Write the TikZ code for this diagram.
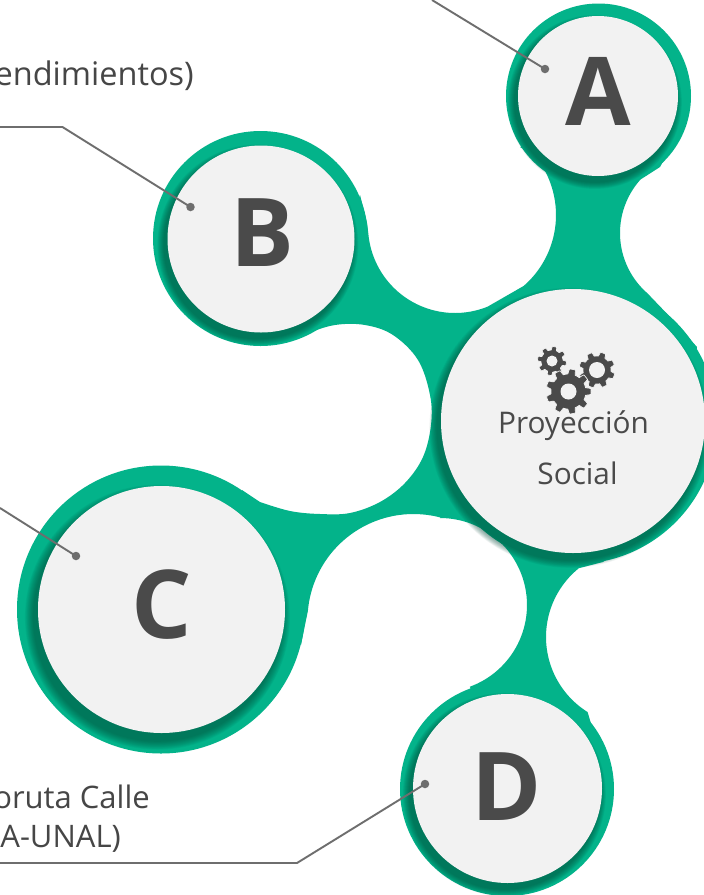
\documentclass[tikz,border=0pt]{standalone}
\usepackage{fontspec}
\setmainfont{Open Sans}
\definecolor{blobc}{HTML}{03B38A}
\definecolor{lightc}{HTML}{F2F2F2}
\definecolor{inkc}{HTML}{4A4A4A}
\definecolor{linec}{HTML}{6E6E6E}
\definecolor{shadowc}{HTML}{004A38}
\tikzset{
  disc/.style={circle,fill=lightc,draw=none,inner sep=0pt},
  letter/.style={anchor=base,inner sep=0pt,text=inkc,font=\fontsize{95}{95}\selectfont\bfseries},
  caption/.style={anchor=base,inner sep=0pt,text=inkc,font=\fontsize{29.8}{29.8}\selectfont},
  sidetext/.style={anchor=base east,inner sep=0pt,text=inkc!95!black,font=\fontsize{31}{31}\selectfont},
  leader/.style={draw=linec,line width=1.9pt,line join=miter},
  pin/.style={circle,fill=linec,draw=none,inner sep=0pt,minimum size=8.5pt}
}
\newcommand{\discshadow}[4]{%
  \foreach \k in {1,...,14}{%
    \fill[shadowc,opacity=.05] ({#1-0.45*#4},{#2+0.85*#4}) circle[radius={(#3+#4*\k/14)*1pt}];
  }}
\newcommand{\gearshape}[7]{%
  \fill[inkc,draw=lightc,line width=.7pt] plot[smooth cycle,tension=.2,samples=145,domain=0:357.5,variable=\t]
    ({#1+(#4+(#3-#4)*max(0,min(1,0.5+1.5*cos(#6*(\t-#7)))))*cos(\t)},
     {#2+(#4+(#3-#4)*max(0,min(1,0.5+1.5*cos(#6*(\t-#7)))))*sin(\t)});
  \fill[lightc] (#1,#2) circle[radius=#5 pt];}
\begin{document}
\begin{tikzpicture}[x=1pt,y=-1pt]
\clip (0,0) rectangle (704,895);
\fill[white] (0,0) rectangle (704,895);
% backbone outline: arcs of the white hollows joined by short straights
\fill[blobc] (675,140) -- (660,167)
 -- plot[domain=222:131,samples=40,variable=\t] ({700+80*cos(\t)},{233+80*sin(\t)})
 -- (673,320) -- (697,347) -- (690,420) -- (660,520) -- (603,562)
 -- plot[domain=231:122,samples=50,variable=\t] ({634.5+88.5*cos(\t)},{637+88.5*sin(\t)})
 -- (592,727) -- (540,770) -- (490,740) -- (470,687)
 -- plot[domain=70:-90,samples=60,variable=\t] ({440+87*cos(\t)},{605+87*sin(\t)})
 -- plot[domain=-75:-175,samples=40,variable=\t] ({413.5+106*cos(\t)},{620+106*sin(\t)})
 -- (301,645) -- (260,600) -- (250,540) -- (242,490)
 -- plot[smooth,tension=.6] coordinates {(260,502) (290,511) (320,514) (350,513) (380,502) (405,483) (423,457) (431,425) (430,395) (418,360) (393,335) (365,325) (335,325) (305,334) (280,343)}
 -- (300,290) -- (340,250) -- (360,195) -- (367,223)
 -- plot[domain=175:68,samples=50,variable=\t] ({455+87*cos(\t)},{226+87*sin(\t)})
 -- plot[domain=49:-40,samples=40,variable=\t] ({462+94*cos(\t)},{215+94*sin(\t)})
 -- (520,147) -- (590,130) -- cycle;
% green rings
\fill[blobc] (598.5,96) circle[radius=92.5pt];
\fill[blobc] (260.5,238.5) circle[radius=107.5pt];
\fill[blobc] (161,609.5) circle[radius=144pt];
\fill[blobc] (507,789) circle[radius=107pt];
\fill[blobc] (575,422) circle[radius=142pt];
% soft shadows
\discshadow{598}{96}{80}{7}
\discshadow{261}{239}{93.5}{7}
\discshadow{161.5}{609.5}{123.5}{9}
\discshadow{507.5}{788.5}{94.5}{7}
\discshadow{573}{421}{132}{8}
% discs
\node[disc,minimum size=160pt] (discA) at (598,96) {};
\node[disc,minimum size=187pt] (discB) at (261,239) {};
\node[disc,minimum size=247pt] (discC) at (161.5,609.5) {};
\node[disc,minimum size=189pt] (discD) at (507.5,788.5) {};
\node[disc,minimum size=264pt] (discMain) at (573,421) {};
% letters
\node[letter] (labelA) at (598,125) {A};
\node[letter] (labelB) at (262,266) {B};
\node[letter] (labelC) at (162,638) {C};
\node[letter] (labelD) at (507,820) {D};
% gears
\gearshape{552}{361}{14.5}{11}{5.5}{8}{10}
\gearshape{597}{370}{18}{14}{8}{8}{20}
\gearshape{568.5}{391.5}{22.5}{17.5}{8}{9}{0}
\node[caption] (capOne) at (573.5,433) {Proyección};
\node[caption] (capTwo) at (577.5,484) {Social};
% side texts
\node[sidetext,font=\fontsize{32.5}{32.5}\selectfont] (textB) at (194,85) {endimientos)};
\node[sidetext] (textDa) at (150,808) {oruta Calle};
\node[sidetext] (textDb) at (121,847) {A-UNAL)};
% leaders
\coordinate (endA) at (432,0);
\coordinate (endB) at (0,127);
\coordinate (kneeB) at (62.5,127);
\coordinate (endC) at (0,508);
\coordinate (endD) at (0,863);
\coordinate (kneeD) at (297,863);
\node[pin] (pinA) at (545,69) {};
\node[pin] (pinB) at (190.5,207) {};
\node[pin] (pinC) at (76,556) {};
\node[pin] (pinD) at (425,784) {};
\draw[leader] (endA) -- (pinA.center);
\draw[leader] (endB) -- (kneeB) -- (pinB.center);
\draw[leader] (endC) -- (pinC.center);
\draw[leader] (endD) -- (kneeD) -- (pinD.center);
\end{tikzpicture}
\end{document}
